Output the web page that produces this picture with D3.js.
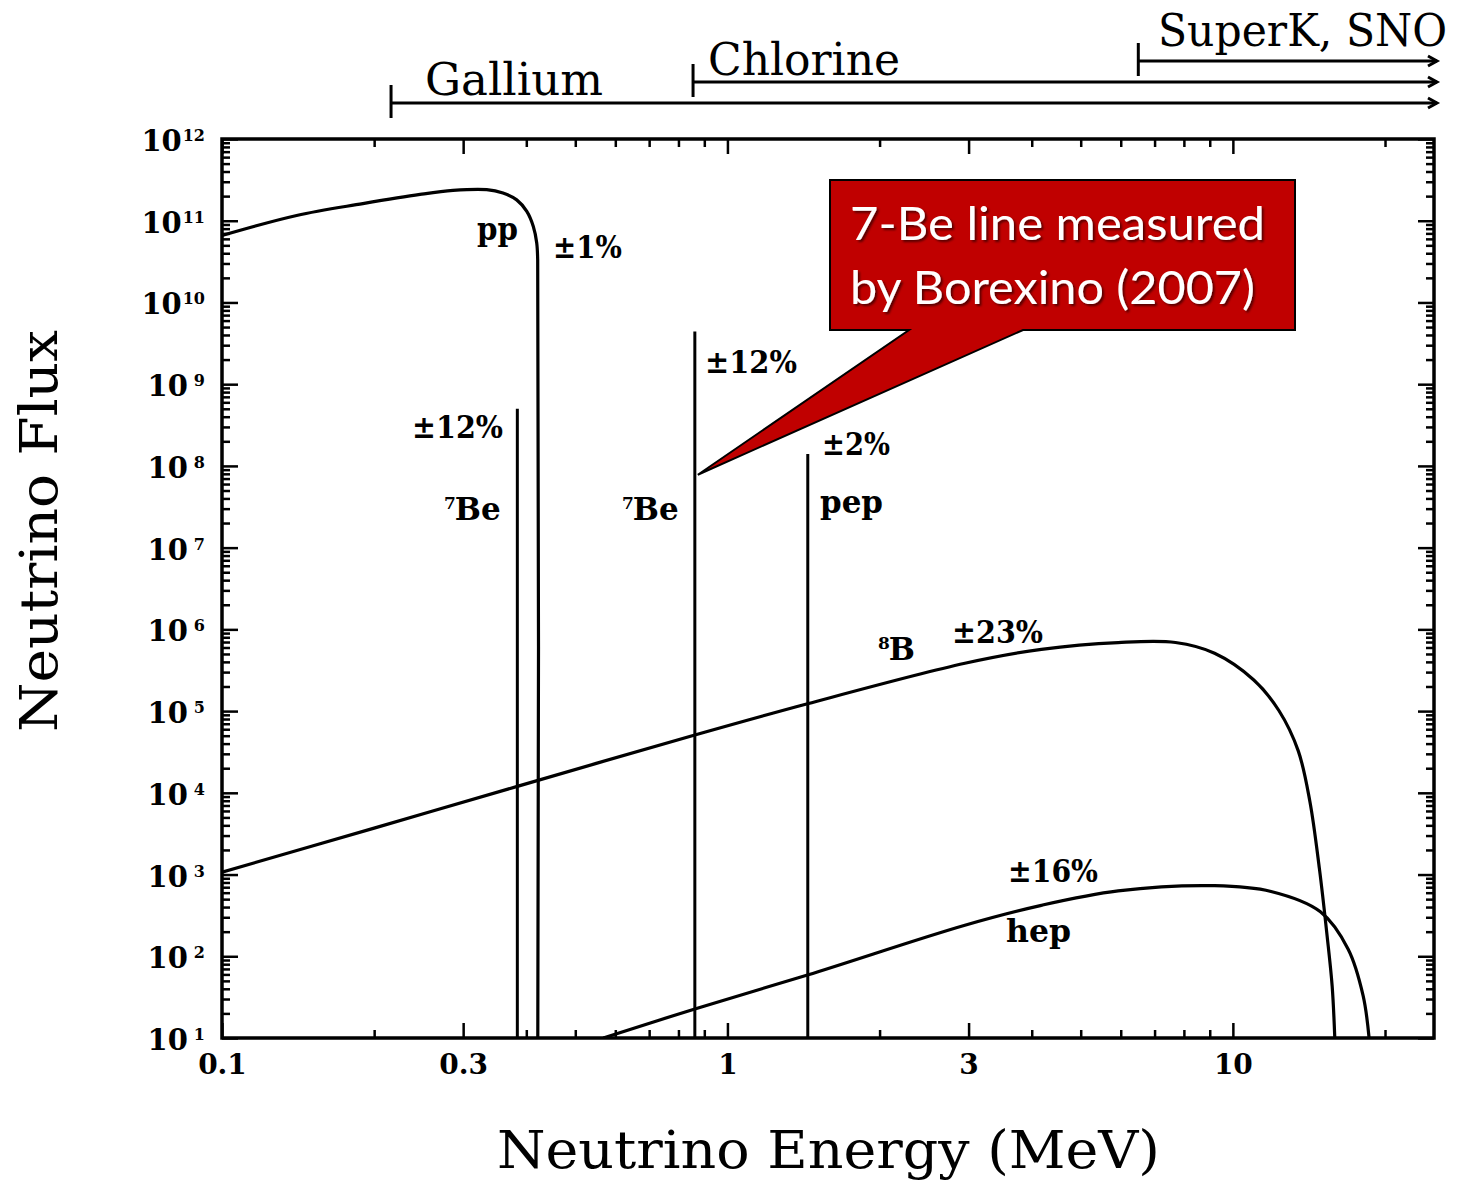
<!DOCTYPE html>
<html><head><meta charset="utf-8">
<script src="https://cdn.jsdelivr.net/npm/d3@7"></script>
<style>body{margin:0;background:#fff}</style>
</head><body>
<svg id="c" width="1460" height="1182"></svg>
<script>
// ---------------- data ----------------
const ppEnergy = [0.1, 0.1405, 0.19, 0.2465, 0.2865, 0.334, 0.3597, 0.3829, 0.4009, 0.413, 0.4194, 0.4213, 0.4215];
const ppFlux   = [6.6e10, 1.16e11, 1.62e11, 2.1e11, 2.35e11, 2.4e11, 2.18e11, 1.8e11, 1.3e11, 8.5e10, 5.37e10, 3.3e10, 10];

const b8Energy = [0.1, 0.2, 0.384, 0.862, 1.44, 2.95, 4.18, 5.93, 7.7, 9.2, 11.0, 12.34, 13.47, 14.2, 14.83, 15.36, 15.72, 15.91];
const b8Flux   = [1.07e3, 3.7e3, 1.2e4, 5.1e4, 1.23e5, 3.85e5, 5.7e5, 6.9e5, 6.9e5, 5.1e5, 2.4e5, 1.01e5, 3.26e4, 7.9e3, 1.19e3, 179, 43, 10];

const hepEnergy = [0.568, 0.862, 1.44, 2.95, 4.18, 5.93, 9.2, 11.9, 14.9, 16.9, 18.1, 18.6];
const hepFlux   = [10, 22.7, 59, 240, 420, 630, 730, 620, 350, 123, 33, 10];

const lineNames   = ["7Be", "7Be", "pep"];
const lineEnergy  = [0.384, 0.862, 1.442];
const lineFlux    = [5e8, 4.4e9, 1.4e8];

const xMajorTicks = [0.1, 0.3, 1, 3, 10];
const xTickLabels = ["0.1", "0.3", "1", "3", "10"];
const xMinorTicks = [0.2, 0.4, 0.5, 0.6, 0.7, 0.8, 0.9, 2, 4, 5, 6, 7, 8, 9, 20];
const yExponents  = [1, 2, 3, 4, 5, 6, 7, 8, 9, 10, 11, 12];

const detectorNames      = ["Gallium", "Chlorine", "SuperK, SNO"];
const detectorThresholds = [0.216, 0.855, 6.5];

const calloutLines = ["7-Be line measured", "by Borexino (2007)"];
const calloutTarget = [0.862, 7.8e7];

// ---------------- chart ----------------
const svg = d3.select("#c");
const L = 222, R = 1434, T = 139, B = 1038;
const x = d3.scaleLog().domain([0.1, 25]).range([L, R]);
const y = d3.scaleLog().domain([10, 1e12]).range([B, T]);
const serif = "'DejaVu Serif', serif";

svg.append("rect").attr("width", 1460).attr("height", 1182).attr("fill", "#fff");

svg.append("clipPath").attr("id", "plot").append("rect")
  .attr("x", L).attr("y", T).attr("width", R - L).attr("height", B - T);

const yMinor = [];
yExponents.slice(0, -1).forEach(e => { for (let m = 2; m <= 9; m++) yMinor.push(m * Math.pow(10, e)); });
const yMajor = yExponents.map(e => Math.pow(10, e));

function styleAxis(g) {
  g.select(".domain").remove();
  g.selectAll(".tick line").attr("stroke", "#000").attr("stroke-width", 2.5);
}
// bottom
svg.append("g").attr("transform", `translate(0,${B})`)
  .call(d3.axisBottom(x).tickValues(xMajorTicks).tickSize(-15).tickPadding(16)
        .tickFormat((d, i) => xTickLabels[i]))
  .call(styleAxis)
  .call(g => g.selectAll("text").attr("font-family", serif).attr("font-weight", "bold")
        .attr("font-size", 28).attr("fill", "#000"));
svg.append("g").attr("transform", `translate(0,${B})`)
  .call(d3.axisBottom(x).tickValues(xMinorTicks).tickSize(-8).tickFormat(""))
  .call(styleAxis);
// top
svg.append("g").attr("transform", `translate(0,${T})`)
  .call(d3.axisTop(x).tickValues(xMajorTicks).tickSize(-15).tickFormat("")).call(styleAxis);
svg.append("g").attr("transform", `translate(0,${T})`)
  .call(d3.axisTop(x).tickValues(xMinorTicks).tickSize(-8).tickFormat("")).call(styleAxis);
// left / right
[[d3.axisLeft, L], [d3.axisRight, R]].forEach(([ax, pos]) => {
  svg.append("g").attr("transform", `translate(${pos},0)`)
    .call(ax(y).tickValues(yMajor).tickSize(-16).tickFormat("")).call(styleAxis);
  svg.append("g").attr("transform", `translate(${pos},0)`)
    .call(ax(y).tickValues(yMinor).tickSize(-8).tickFormat("")).call(styleAxis);
});

// y tick labels 10^n
yExponents.forEach(e => {
  const t = svg.append("text").attr("x", 205).attr("y", y(Math.pow(10, e)) + 12)
    .attr("text-anchor", "end").attr("font-family", serif).attr("font-weight", "bold").attr("fill", "#000");
  t.append("tspan").attr("font-size", 29).text("10");
  t.append("tspan").attr("font-size", 16).attr("dy", -10).attr("dx", e < 10 ? 6 : 1).text(String(e));
});

// frame
svg.append("rect").attr("x", L).attr("y", T).attr("width", R - L).attr("height", B - T)
  .attr("fill", "none").attr("stroke", "#000").attr("stroke-width", 3.5);

// curves
const smooth = d3.line().x(d => x(d[0])).y(d => y(d[1])).curve(d3.curveCatmullRom.alpha(0.5));
const plot = svg.append("g").attr("clip-path", "url(#plot)");
[[ppEnergy, ppFlux], [b8Energy, b8Flux], [hepEnergy, hepFlux]].forEach(([E, F]) => {
  plot.append("path").attr("d", smooth(E.map((e, i) => [e, F[i]])))
    .attr("fill", "none").attr("stroke", "#000").attr("stroke-width", 3.2).attr("stroke-linejoin", "round");
});
// monoenergetic lines
plot.selectAll("line.mono").data(lineEnergy).join("line").attr("class", "mono")
  .attr("x1", d => x(d)).attr("x2", d => x(d))
  .attr("y1", y(10)).attr("y2", (d, i) => y(lineFlux[i]))
  .attr("stroke", "#000").attr("stroke-width", 3);

// in-plot labels
const labels = [
  {t: "pp", x: 477, y: 240, w: 41},
  {t: "±1%", x: 553, y: 258, w: 69},
  {t: "±12%", x: 412, y: 438, w: 91},
  {t: "±12%", x: 705, y: 373, w: 92},
  {t: "±2%", x: 822, y: 455, w: 68},
  {t: "pep", x: 820, y: 513, w: 63},
  {t: "±23%", x: 952, y: 643, w: 91},
  {t: "±16%", x: 1008, y: 882, w: 90},
  {t: "hep", x: 1006, y: 942, w: 65}
];
labels.forEach(l => {
  svg.append("text").attr("x", l.x).attr("y", l.y).attr("font-family", serif)
    .attr("font-weight", "bold").attr("font-size", 31).attr("fill", "#000")
    .attr("textLength", l.w).attr("lengthAdjust", "spacingAndGlyphs").text(l.t);
});
const isoLabels = [
  {sup: "7", base: "Be", x: 444, y: 520},
  {sup: "7", base: "Be", x: 622, y: 520},
  {sup: "8", base: "B", x: 878, y: 660}
];
isoLabels.forEach(l => {
  const t = svg.append("text").attr("x", l.x).attr("y", l.y).attr("font-family", serif)
    .attr("font-weight", "bold").attr("fill", "#000");
  t.append("tspan").attr("font-size", 17).attr("dy", -11).text(l.sup);
  t.append("tspan").attr("font-size", 31).attr("dy", 11).attr("dx", -1).text(l.base);
});

// axis titles
svg.append("text").attr("x", 497).attr("y", 1168).attr("font-family", serif)
  .attr("font-size", 52).attr("fill", "#000").attr("textLength", 663)
  .attr("lengthAdjust", "spacingAndGlyphs").text("Neutrino Energy (MeV)");
svg.append("text").attr("transform", "translate(57,732) rotate(-90)").attr("font-family", serif)
  .attr("font-size", 52).attr("fill", "#000").attr("textLength", 402)
  .attr("lengthAdjust", "spacingAndGlyphs").text("Neutrino Flux");

// detector threshold bars
const barY = [103, 82, 61];
const textPos = [{x: 425, y: 95, w: 178}, {x: 708, y: 75, w: 192}, {x: 1158, y: 46, w: 289}];
const arrowEnd = R + 3;
detectorThresholds.forEach((th, i) => {
  const x0 = x(th), yy = barY[i];
  const g = svg.append("g").attr("stroke", "#000").attr("stroke-width", 3).attr("fill", "none");
  g.append("line").attr("x1", x0).attr("x2", arrowEnd).attr("y1", yy).attr("y2", yy);
  g.append("line").attr("x1", x0).attr("x2", x0).attr("y1", yy - 18).attr("y2", yy + 15);
  g.append("path").attr("d", `M${arrowEnd - 9},${yy - 5} L${arrowEnd},${yy} L${arrowEnd - 9},${yy + 5}`);
  svg.append("text").attr("x", textPos[i].x).attr("y", textPos[i].y).attr("font-family", serif)
    .attr("font-size", 44).attr("fill", "#000").attr("textLength", textPos[i].w)
    .attr("lengthAdjust", "spacingAndGlyphs").text(detectorNames[i]);
});

// callout
const tipX = x(calloutTarget[0]) + 3, tipY = y(calloutTarget[1]);
const bx0 = 830, bx1 = 1295, by0 = 180, by1 = 330;
svg.append("path")
  .attr("d", `M${bx0},${by0} H${bx1} V${by1} H1023 L${tipX},${tipY} L909,${by1} H${bx0} Z`)
  .attr("fill", "#c00000").attr("stroke", "#000").attr("stroke-width", 2);
const defs = svg.append("defs");
const f = defs.append("filter").attr("id", "sh").attr("x", "-10%").attr("y", "-10%").attr("width", "120%").attr("height", "140%");
f.append("feDropShadow").attr("dx", 2).attr("dy", 2).attr("stdDeviation", 1.2)
  .attr("flood-color", "#000").attr("flood-opacity", 0.55);
calloutLines.forEach((s, i) => {
  svg.append("text").attr("x", 850).attr("y", 240 + i * 64).attr("font-family", "Lato, 'Open Sans', sans-serif")
    .attr("font-size", 47).attr("fill", "#fff").attr("filter", "url(#sh)")
    .attr("textLength", i === 0 ? 415 : 405).attr("lengthAdjust", "spacingAndGlyphs").text(s);
});
</script>
</body></html>
